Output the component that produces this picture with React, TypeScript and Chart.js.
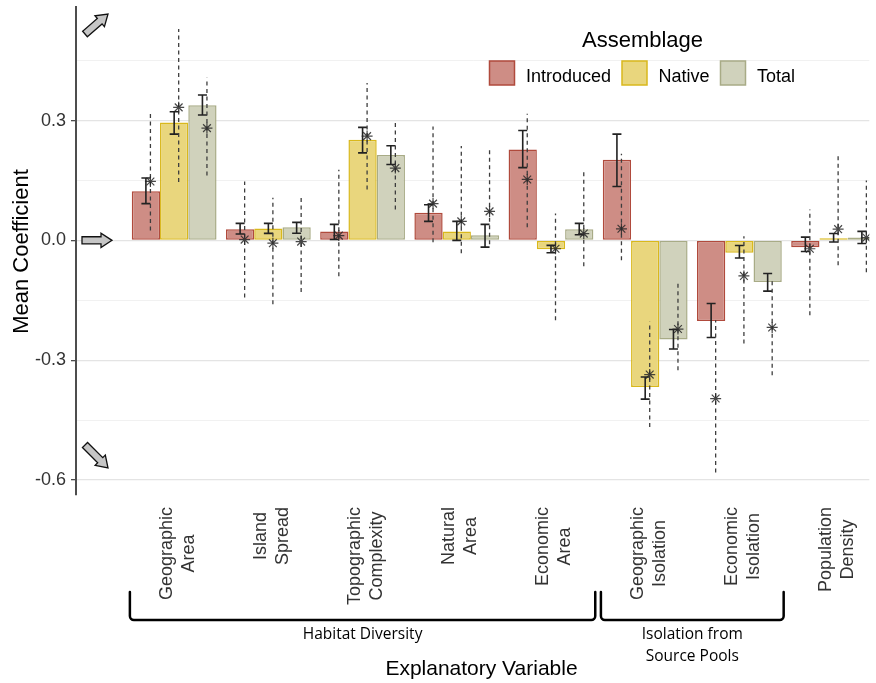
import React, { useEffect, useRef } from "react";
import { Chart, registerables } from "chart.js";

Chart.register(...registerables);

// ---------- data ----------
const categoryLabels: string[][] = [
  ["Geographic", "Area"],
  ["Island", "Spread"],
  ["Topographic", "Complexity"],
  ["Natural", "Area"],
  ["Economic", "Area"],
  ["Geographic", "Isolation"],
  ["Economic", "Isolation"],
  ["Population", "Density"],
];
const assemblages = ["Introduced", "Native", "Total"];

const introducedMean = [0.123, 0.028, 0.0225, 0.069, 0.2275, 0.202, -0.202, -0.017];
const introducedErrHigh = [0.156, 0.0425, 0.04, 0.089, 0.275, 0.266, -0.158, 0.008];
const introducedErrLow = [0.092, 0.016, 0.002, 0.0475, 0.182, 0.135, -0.243, -0.028];
const introducedStar = [0.1475, 0.002, 0.012, 0.092, 0.1525, 0.029, -0.396, -0.021];
const introducedRangeHigh = [0.317, 0.1475, 0.177, 0.285, 0.317, 0.217, -0.2, 0.077];
const introducedRangeLow = [0.025, -0.143, -0.09, -0.005, 0.033, -0.05, -0.581, -0.1875];

const nativeMean = [0.295, 0.03, 0.252, 0.0225, -0.022, -0.367, -0.031, 0.005];
const nativeErrHigh = [0.322, 0.0425, 0.283, 0.0475, -0.0125, -0.342, -0.013, 0.017];
const nativeErrLow = [0.266, 0.0175, 0.219, 0.0, -0.031, -0.3975, -0.044, -0.004];
const nativeStar = [0.333, -0.007, 0.261, 0.0475, -0.021, -0.336, -0.089, 0.028];
const nativeRangeHigh = [0.529, 0.107, 0.394, 0.236, 0.067, -0.204, 0.01, 0.219];
const nativeRangeLow = [0.146, -0.16, 0.1275, -0.032, -0.2, -0.467, -0.258, -0.0625];

const totalMean = [0.338, 0.033, 0.214, 0.013, 0.028, -0.248, -0.104, 0.007];
const totalErrHigh = [0.364, 0.045, 0.237, 0.04, 0.0425, -0.223, -0.083, 0.0225];
const totalErrLow = [0.314, 0.018, 0.19, -0.017, 0.014, -0.272, -0.127, -0.008];
const totalStar = [0.281, -0.003, 0.181, 0.0725, 0.017, -0.222, -0.218, 0.007];
const totalRangeHigh = [0.407, 0.1125, 0.298, 0.229, 0.179, -0.106, -0.095, 0.15];
const totalRangeLow = [0.1625, -0.129, 0.0775, -0.01, -0.065, -0.325, -0.3375, -0.08];

const yTickValues = [-0.6, -0.3, 0, 0.3];
const yTickLabels = ["-0.6", "-0.3", "0.0", "0.3"];
const yMinorValues = [-0.45, -0.15, 0.15, 0.45];

const groupNames: string[][] = [["Habitat Diversity"], ["Isolation from", "Source Pools"]];
const groupFirst = [0, 5];
const groupLast = [4, 6];

const yTitle = "Mean Coefficient";
const xTitle = "Explanatory Variable";
const legendTitle = "Assemblage";

// ---------- styling ----------
const fills = ["#CE8D85", "#E9D67D", "#D0D2BC"];
const borders = ["#B04A3C", "#D9B81C", "#A8AB86"];
const GROUP_WIDTH = 0.9;
const STAR_SHIFT = 0.048;
const FONT = "'Liberation Sans', Arial, sans-serif";

const means = [introducedMean, nativeMean, totalMean];
const errHighs = [introducedErrHigh, nativeErrHigh, totalErrHigh];
const errLows = [introducedErrLow, nativeErrLow, totalErrLow];
const stars = [introducedStar, nativeStar, totalStar];
const rangeHighs = [introducedRangeHigh, nativeRangeHigh, totalRangeHigh];
const rangeLows = [introducedRangeLow, nativeRangeLow, totalRangeLow];

const dodgeX = (i: number, j: number) => i + (j - 1) * (GROUP_WIDTH / 3) + STAR_SHIFT;
const isMajor = (v: number) => yTickValues.some((t) => Math.abs(t - v) < 1e-9);

function blockArrow(ctx: CanvasRenderingContext2D, x0: number, y0: number, x1: number, y1: number) {
  const dx = x1 - x0, dy = y1 - y0, len = Math.hypot(dx, dy);
  const ux = dx / len, uy = dy / len, nx = -uy, ny = ux;
  const bw = 3.6, hw = 7.2, hl = 11;
  const bx = x1 - ux * hl, by = y1 - uy * hl;
  ctx.beginPath();
  ctx.moveTo(x0 + nx * bw, y0 + ny * bw);
  ctx.lineTo(bx + nx * bw, by + ny * bw);
  ctx.lineTo(bx + nx * hw, by + ny * hw);
  ctx.lineTo(x1, y1);
  ctx.lineTo(bx - nx * hw, by - ny * hw);
  ctx.lineTo(bx - nx * bw, by - ny * bw);
  ctx.lineTo(x0 - nx * bw, y0 - ny * bw);
  ctx.closePath();
  ctx.fillStyle = "#c6c6c6";
  ctx.fill();
  ctx.strokeStyle = "#111";
  ctx.lineWidth = 1.3;
  ctx.lineJoin = "miter";
  ctx.stroke();
}

const errorBarPlugin = {
  id: "errorBars",
  afterDatasetDraw(chart: any, args: any) {
    const ds = chart.data.datasets[args.index];
    if (!ds.errHigh) return;
    const ctx = chart.ctx as CanvasRenderingContext2D;
    const y = chart.scales.y;
    ctx.save();
    ctx.strokeStyle = "#222";
    ctx.lineWidth = 1.6;
    args.meta.data.forEach((bar: any, i: number) => {
      const x = bar.x;
      const y1 = y.getPixelForValue(ds.errHigh[i]);
      const y2 = y.getPixelForValue(ds.errLow[i]);
      ctx.beginPath();
      ctx.moveTo(x, y1);
      ctx.lineTo(x, y2);
      ctx.moveTo(x - 4.5, y1);
      ctx.lineTo(x + 4.5, y1);
      ctx.moveTo(x - 4.5, y2);
      ctx.lineTo(x + 4.5, y2);
      ctx.stroke();
    });
    ctx.restore();
  },
};

const overlayPlugin = {
  id: "overlay",
  afterDraw(chart: any) {
    const ctx = chart.ctx as CanvasRenderingContext2D;
    const xs = chart.scales.x;
    const ys = chart.scales.y;
    ctx.save();

    // arrows
    const y0 = ys.getPixelForValue(0);
    blockArrow(ctx, 85, 34, 108, 14);
    blockArrow(ctx, 82, y0, 112, y0);
    blockArrow(ctx, 85, 445, 108, 468);

    // y title
    ctx.fillStyle = "#000";
    ctx.font = `22px ${FONT}`;
    ctx.textAlign = "center";
    ctx.textBaseline = "alphabetic";
    ctx.save();
    ctx.translate(28, 251.5);
    ctx.rotate(-Math.PI / 2);
    ctx.fillText(yTitle, 0, 0);
    ctx.restore();

    // category labels
    ctx.font = `18px ${FONT}`;
    ctx.fillStyle = "#333";
    categoryLabels.forEach((lines, i) => {
      const cx = xs.getPixelForValue(i);
      const maxW = Math.max(...lines.map((l) => ctx.measureText(l).width));
      const cy = 507 + maxW / 2;
      lines.forEach((line, k) => {
        ctx.save();
        ctx.translate(cx - 2.5 + k * 22, cy);
        ctx.rotate(-Math.PI / 2);
        ctx.fillText(line, 0, 0);
        ctx.restore();
      });
    });

    // brackets
    ctx.strokeStyle = "#000";
    ctx.lineWidth = 2.5;
    ctx.lineJoin = "round";
    ctx.lineCap = "round";
    groupNames.forEach((names, g) => {
      const xl = xs.getPixelForValue(groupFirst[g] - 0.47);
      const xr = xs.getPixelForValue(groupLast[g] + 0.47);
      const top = 592, bot = 620, r = 4;
      ctx.beginPath();
      ctx.moveTo(xl, top);
      ctx.arcTo(xl, bot, xl + r, bot, r);
      ctx.arcTo(xr, bot, xr, top, r);
      ctx.lineTo(xr, top);
      ctx.stroke();
      ctx.font = "15.5px 'Open Sans', sans-serif";
      ctx.fillStyle = "#000";
      ctx.textAlign = "center";
      names.forEach((n, k) => ctx.fillText(n, (xl + xr) / 2, 639 + k * 22));
    });

    // x title
    ctx.font = `21px ${FONT}`;
    ctx.fillStyle = "#000";
    ctx.textAlign = "center";
    ctx.fillText(xTitle, 481.5, 675);

    // legend
    ctx.textAlign = "left";
    ctx.font = `22px ${FONT}`;
    ctx.fillText(legendTitle, 582, 47);
    const keyX = [489.5, 622, 720.5];
    ctx.font = `18px ${FONT}`;
    assemblages.forEach((name, j) => {
      ctx.fillStyle = fills[j];
      ctx.fillRect(keyX[j], 61, 25, 24);
      ctx.strokeStyle = borders[j];
      ctx.lineWidth = 1.5;
      ctx.lineJoin = "miter";
      ctx.strokeRect(keyX[j], 61, 25, 24);
      ctx.fillStyle = "#000";
      ctx.fillText(name, keyX[j] + 36.5, 81.5);
    });

    ctx.restore();
  },
};

export default function App() {
  const ref = useRef<HTMLCanvasElement>(null);

  useEffect(() => {
    const canvas = ref.current;
    if (!canvas) return;
    Chart.defaults.font.family = FONT;

    const barSets = assemblages.map((name, j) => ({
      type: "bar" as const,
      label: name,
      data: means[j].map((v, i) => ({ x: i, y: v })),
      backgroundColor: fills[j],
      borderColor: borders[j],
      borderWidth: 1.5,
      borderSkipped: false,
      barPercentage: 1,
      categoryPercentage: GROUP_WIDTH,
      order: 10,
      errHigh: errHighs[j],
      errLow: errLows[j],
    }));

    const rangeSets = assemblages.map((name, j) => ({
      type: "line" as const,
      label: name + " range",
      data: rangeLows[j].flatMap((lo, i) => [
        { x: dodgeX(i, j), y: lo },
        { x: dodgeX(i, j), y: rangeHighs[j][i] },
        { x: dodgeX(i, j), y: null },
      ]),
      borderColor: "#3d3d3d",
      borderWidth: 1.3,
      borderDash: [4, 3.5],
      pointRadius: 0,
      spanGaps: false,
      fill: false,
      tension: 0,
      order: 5,
    }));

    const starSets = assemblages.map((name, j) => ({
      type: "scatter" as const,
      label: name + " estimate",
      data: stars[j].map((v, i) => ({ x: dodgeX(i, j), y: v })),
      pointStyle: "star",
      pointRadius: 5.5,
      pointBorderWidth: 1.2,
      borderColor: "rgba(40,40,40,0.85)",
      backgroundColor: "rgba(0,0,0,0)",
      order: 1,
    }));

    const chart = new Chart(canvas, {
      type: "bar",
      data: { datasets: [...barSets, ...rangeSets, ...starSets] as any },
      options: {
        responsive: false,
        animation: false,
        devicePixelRatio: 1,
        layout: { padding: { top: 6, bottom: 188, left: 0, right: 0 } },
        plugins: { legend: { display: false }, tooltip: { enabled: false } },
        scales: {
          x: {
            type: "linear",
            min: -1.042,
            max: 7.379,
            display: false,
            offset: false,
            ticks: { stepSize: 1, includeBounds: false },
            grid: { display: false },
          },
          y: {
            type: "linear",
            min: -0.6375,
            max: 0.585,
            afterFit: (scale: any) => {
              scale.width = 76;
              scale.paddingTop = 0;
              scale.paddingBottom = 0;
            },
            afterBuildTicks: (scale: any) => {
              scale.ticks = [...yTickValues, ...yMinorValues]
                .sort((a, b) => a - b)
                .map((v) => ({ value: v }));
            },
            ticks: {
              padding: 5,
              color: "#333",
              font: { size: 18, family: FONT },
              callback: (v: any) => {
                const k = yTickValues.findIndex((t) => Math.abs(t - v) < 1e-9);
                return k >= 0 ? yTickLabels[k] : "";
              },
            },
            grid: {
              color: (c: any) => (isMajor(c.tick.value) ? "#e4e4e4" : "#efefef"),
              lineWidth: (c: any) => (isMajor(c.tick.value) ? 1.3 : 0.9),
              tickColor: (c: any) => (isMajor(c.tick.value) ? "#4d4d4d" : "rgba(0,0,0,0)"),
              tickLength: 5,
              drawTicks: true,
            },
            border: { color: "#4d4d4d", width: 2 },
          },
        },
      } as any,
      plugins: [errorBarPlugin, overlayPlugin],
    });

    return () => chart.destroy();
  }, []);

  return (
    <div style={{ position: "fixed", left: 0, top: 0, width: 876, height: 683, background: "#fff" }}>
      <canvas ref={ref} width={876} height={683} style={{ display: "block", width: 876, height: 683 }} />
    </div>
  );
}
